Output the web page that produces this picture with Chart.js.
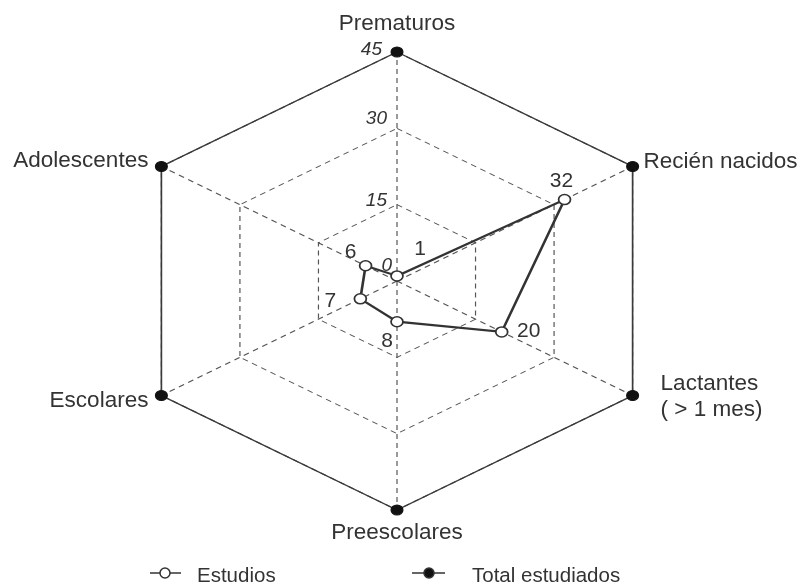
<!DOCTYPE html>
<html><head><meta charset="utf-8">
<script src="https://cdn.jsdelivr.net/npm/chart.js@4.4.1/dist/chart.umd.min.js"></script>
<style>html,body{margin:0;padding:0;background:#fff;overflow:hidden}canvas{display:block}</style>
</head><body>
<canvas id="c" width="806" height="584"></canvas>
<script>
// ---- data ----
const categories = ['Prematuros', 'Recién nacidos', ['Lactantes', '( > 1 mes)'], 'Preescolares', 'Escolares', 'Adolescentes'];
const estudios = [1, 32, 20, 8, 7, 6];
const totalEstudiados = [45, 45, 45, 45, 45, 45];
const tickValues = [0, 15, 30, 45];
const seriesNames = ['Estudios', 'Total estudiados'];

// ---- styles ----
const STRETCH_X = 1.188;
const FONT = '"Liberation Sans", Arial, Helvetica, sans-serif';
const TEXT = '#333';
const LABEL_SIZE = 22.5;
const VALUE_SIZE = 21;
// per category label placement relative to the outer vertex
const catAlign = ['center', 'left', 'left', 'center', 'right', 'right'];
const catDx = [0, 11, 28, 0, -13, -13];
const catDy = [-28, -5, -12, 23, 5, -6];
const catLineH = 26;
// value label offsets relative to the Estudios point
const valDx = [23, -3, 27, -10, -30, -15];
const valDy = [-27, -18, -1, 19, 2, -14];
// tick label offsets (right edge / vertical centre relative to the ring on the top spoke)
const tickDx = [-5, -10, -10, -15];
const tickDy = [-15, -4, -10, -2];

const stretchPlugin = {
  id: 'stretch',
  beforeDraw(chart) {
    const s = chart.scales.r, ctx = chart.ctx;
    ctx.save();
    ctx.translate(s.xCenter, 0);
    ctx.scale(STRETCH_X, 1);
    ctx.translate(-s.xCenter, 0);
  },
  afterDatasetsDraw(chart) {
    chart.ctx.restore();
  },
  afterDraw(chart) {
    const s = chart.scales.r, ctx = chart.ctx;
    const tx = x => s.xCenter + (x - s.xCenter) * STRETCH_X;
    ctx.save();
    ctx.fillStyle = TEXT;
    ctx.textBaseline = 'middle';
    // category labels
    ctx.font = LABEL_SIZE + 'px ' + FONT;
    categories.forEach((lab, i) => {
      const p = s.getPointPosition(i, s.drawingArea);
      const x = tx(p.x) + catDx[i], y = p.y + catDy[i];
      ctx.textAlign = catAlign[i];
      const lines = Array.isArray(lab) ? lab : [lab];
      lines.forEach((ln, j) => ctx.fillText(ln, x, y + j * catLineH));
    });
    // tick labels
    ctx.font = 'italic 19px ' + FONT;
    ctx.textAlign = 'right';
    tickValues.forEach((v, i) => {
      const y = s.yCenter - s.getDistanceFromCenterForValue(v);
      ctx.fillText(String(v), s.xCenter + tickDx[i], y + tickDy[i]);
    });
    // value labels
    ctx.font = VALUE_SIZE + 'px ' + FONT;
    ctx.textAlign = 'center';
    const meta = chart.getDatasetMeta(0);
    meta.data.forEach((pt, i) => {
      ctx.fillText(String(estudios[i]), tx(pt.x) + valDx[i], pt.y + valDy[i]);
    });
    // legend
    const leg = [
      {x0: 150, x1: 181, cx: 165, tx: 197, fill: '#fff', text: seriesNames[0]},
      {x0: 412, x1: 445, cx: 429, tx: 472, fill: '#111', text: seriesNames[1]}
    ];
    const ly = 573;
    ctx.font = '20.5px ' + FONT;
    ctx.textAlign = 'left';
    leg.forEach(l => {
      ctx.strokeStyle = '#333'; ctx.lineWidth = 1.5;
      ctx.beginPath(); ctx.moveTo(l.x0, ly); ctx.lineTo(l.x1, ly); ctx.stroke();
      ctx.beginPath(); ctx.arc(l.cx, ly, 5, 0, Math.PI * 2);
      ctx.fillStyle = l.fill; ctx.fill(); ctx.stroke();
      ctx.fillStyle = TEXT;
      ctx.fillText(l.text, l.tx, ly + 3);
    });
    ctx.restore();
  }
};

new Chart(document.getElementById('c'), {
  type: 'radar',
  data: {
    labels: categories,
    datasets: [
      {
        label: seriesNames[0], data: estudios,
        borderColor: '#333', borderWidth: 2.2, backgroundColor: 'transparent', fill: false,
        pointRadius: 5, pointBackgroundColor: '#fff', pointBorderColor: '#333', pointBorderWidth: 1.5
      },
      {
        label: seriesNames[1], data: totalEstudiados,
        borderColor: '#3a3a3a', borderWidth: 1.4, backgroundColor: 'transparent', fill: false,
        pointRadius: 5, pointBackgroundColor: '#111', pointBorderColor: '#111', pointBorderWidth: 1
      }
    ]
  },
  options: {
    responsive: false,
    animation: false,
    devicePixelRatio: 1,
    layout: { padding: { left: 168, right: 180, top: 52, bottom: 74 } },
    plugins: { legend: { display: false }, tooltip: { enabled: false } },
    scales: {
      r: {
        min: 0, max: 45,
        ticks: { stepSize: 15, display: false },
        pointLabels: { display: false },
        grid: { color: '#555', lineWidth: 1 },
        border: { dash: [5, 4] },
        angleLines: { color: '#555', lineWidth: 1, borderDash: [5, 4] }
      }
    }
  },
  plugins: [stretchPlugin]
});
</script>
</body></html>
